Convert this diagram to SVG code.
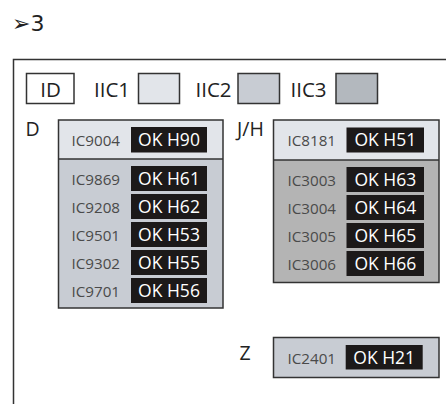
<svg xmlns="http://www.w3.org/2000/svg" width="446" height="404" viewBox="0 0 446 404">
<style>
.lbl{font-family:"Open Sans","Noto Sans",sans-serif;font-size:19.5px;fill:#222}
.leg{font-family:"Open Sans","Noto Sans",sans-serif;font-size:20.5px;fill:#222}
.ic{font-family:"Open Sans","Noto Sans",sans-serif;font-size:15.2px;fill:#4a4a4a}
.ok{font-family:"Open Sans","Noto Sans",sans-serif;font-size:17.5px;fill:#fff;text-anchor:middle}
.box{stroke:#333;stroke-width:1.5}
.blk{fill:#1c1919}
.c1{fill:#e2e5ea}
.c2{fill:#c8ccd3}
.c3{fill:#b3b8be}
</style>
<text x="12" y="30.5" font-family="DejaVu Sans, sans-serif" font-size="22" fill="#222">➢3</text>
<path d="M13.5 404 V59.5 H446" fill="none" stroke="#333" stroke-width="1.5"/>
<g id="legend">
<rect x="26.5" y="73.5" width="47.5" height="30" fill="#fff" class="box"/>
<text x="50.5" y="96.5" class="leg" text-anchor="middle">ID</text>
<text x="94" y="96.5" class="leg">IIC1</text>
<rect x="138.5" y="73.5" width="41" height="30" class="box c1"/>
<text x="195.5" y="96.5" class="leg">IIC2</text>
<rect x="238" y="73.5" width="41.5" height="30" class="box c2"/>
<text x="290.5" y="96.5" class="leg">IIC3</text>
<rect x="336" y="73.5" width="41.5" height="30" class="box c3"/>
</g>
<g id="groupD">
<text x="25.5" y="136" class="lbl">D</text>
<rect x="58.5" y="120" width="164.5" height="39" class="c1"/>
<rect x="58.5" y="159" width="164.5" height="149" class="c2"/>
<rect x="58.5" y="120" width="164.5" height="188" fill="none" class="box"/>
<line x1="58.5" y1="159" x2="223" y2="159" class="box"/>
<rect x="131" y="127" width="76" height="25.5" class="blk"/>
<text x="71.5" y="146" class="ic">IC9004</text><text x="169" y="146" class="ok">OK H90</text>
<rect x="131" y="166" width="76" height="25" class="blk"/>
<text x="71.5" y="184.5" class="ic">IC9869</text><text x="169" y="184.5" class="ok">OK H61</text>
<rect x="131" y="194" width="76" height="25" class="blk"/>
<text x="71.5" y="212.5" class="ic">IC9208</text><text x="169" y="212.5" class="ok">OK H62</text>
<rect x="131" y="222" width="76" height="25" class="blk"/>
<text x="71.5" y="240.5" class="ic">IC9501</text><text x="169" y="240.5" class="ok">OK H53</text>
<rect x="131" y="250" width="76" height="25" class="blk"/>
<text x="71.5" y="268.5" class="ic">IC9302</text><text x="169" y="268.5" class="ok">OK H55</text>
<rect x="131" y="278" width="76" height="25" class="blk"/>
<text x="71.5" y="296.5" class="ic">IC9701</text><text x="169" y="296.5" class="ok">OK H56</text>
</g>
<g id="groupJH">
<text x="237" y="136" class="lbl">J/H</text>
<rect x="273.5" y="120" width="165.5" height="40" class="c1"/>
<rect x="273.5" y="160" width="165.5" height="122.5" fill="#b4b4b4"/>
<rect x="273.5" y="120" width="165.5" height="162.5" fill="none" class="box"/>
<line x1="273.5" y1="160" x2="439" y2="160" class="box"/>
<rect x="346.5" y="127.5" width="77.5" height="25" class="blk"/>
<text x="287.5" y="146" class="ic">IC8181</text><text x="385.3" y="146" class="ok">OK H51</text>
<rect x="346.5" y="167" width="77.5" height="25" class="blk"/>
<text x="287.5" y="185.5" class="ic">IC3003</text><text x="385.3" y="185.5" class="ok">OK H63</text>
<rect x="346.5" y="195" width="77.5" height="25" class="blk"/>
<text x="287.5" y="213.5" class="ic">IC3004</text><text x="385.3" y="213.5" class="ok">OK H64</text>
<rect x="346.5" y="223" width="77.5" height="25" class="blk"/>
<text x="287.5" y="241.5" class="ic">IC3005</text><text x="385.3" y="241.5" class="ok">OK H65</text>
<rect x="346.5" y="251" width="77.5" height="25" class="blk"/>
<text x="287.5" y="269.5" class="ic">IC3006</text><text x="385.3" y="269.5" class="ok">OK H66</text>
</g>
<g id="groupZ">
<text x="239.5" y="360" class="lbl">Z</text>
<rect x="273.5" y="337.5" width="165.5" height="40" class="box c2"/>
<rect x="345.7" y="345" width="77" height="24.5" class="blk"/>
<text x="287.5" y="363.5" class="ic">IC2401</text><text x="384.2" y="363.5" class="ok">OK H21</text>
</g>
<g id="connectors"/>
</svg>
